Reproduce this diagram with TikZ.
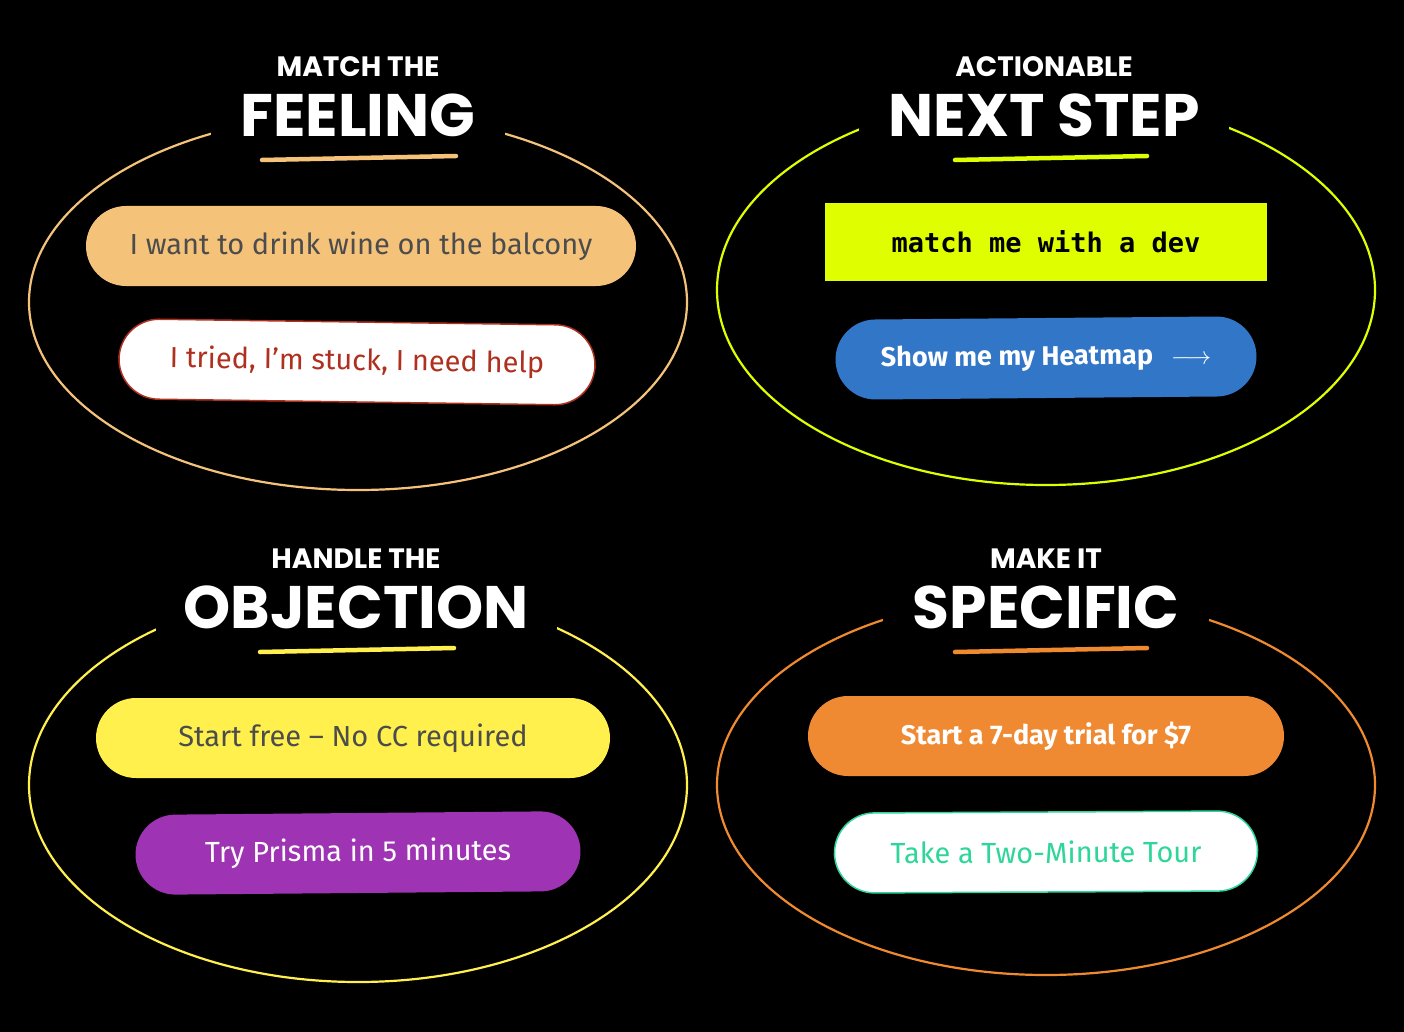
\documentclass[tikz,border=0pt]{standalone}
\usepackage{fontspec}
\setmainfont{Fira Sans}
\setmonofont{DejaVu Sans Mono}
\newfontfamily\titlefont{Poppins}
\begin{document}
\begin{tikzpicture}[x=1pt,y=-1pt,
  ell/.style={line width=2.2pt},
  btn/.style={rounded corners=40pt,minimum height=80pt,inner sep=0pt,font=\fontsize{29}{30}\selectfont},
  small/.style={fill=black,inner sep=0pt,font=\titlefont\bfseries\fontsize{28}{30}\selectfont,text=white},
  big/.style={fill=black,inner xsep=30pt,inner ysep=4pt,font=\titlefont\bfseries\fontsize{60}{62}\selectfont,text=white},
  uline/.style={line width=4.5pt,line cap=round}]
\definecolor{cA}{HTML}{F5C27A}\definecolor{cB}{HTML}{DFFF00}
\definecolor{cC}{HTML}{FFF04D}\definecolor{cD}{HTML}{F08A2E}
\fill[black] (0,0) rectangle (1404,1032);
\useasboundingbox (0,0) rectangle (1404,1032);
% ellipses
\draw[ell,cA] (358,302) ellipse [x radius=329,y radius=188];
\draw[ell,cB] (1046,290) ellipse [x radius=329,y radius=195];
\draw[ell,cC] (358,785) ellipse [x radius=329,y radius=197];
\draw[ell,cD] (1046,785) ellipse [x radius=329,y radius=190];
% titles
\node[big] (t1) at (358,115) {FEELING};
\node[small] (s1) at (358,67) {MATCH THE};
\draw[uline,cA] (262,160) -- (456,156);
\node[big] (t2) at (1044,115) {NEXT STEP};
\node[small] (s2) at (1044,67) {ACTIONABLE};
\draw[uline,cB] (955,160) -- (1147,156);
\node[big,inner xsep=28pt] (t3) at (356,607) {OBJECTION};
\node[small] (s3) at (356,559) {HANDLE THE};
\draw[uline,cC] (260,652) -- (454,648);
\node[big] (t4) at (1046,607) {SPECIFIC};
\node[small] (s4) at (1046,559) {MAKE IT};
\draw[uline,cD] (955,652) -- (1147,648);
% buttons
\node[btn,fill=cA,minimum width=550pt,text=black!70] (b1) at (361,246) {I want to drink wine on the balcony};
\node[btn,fill=white,draw={rgb,255:red,176;green,48;blue,31},line width=1.5pt,minimum width=476pt,rotate=-0.8,text={rgb,255:red,176;green,48;blue,31}] (b2) at (357,362) {I tried, I’m stuck, I need help};
\node[fill=cB,minimum width=442pt,minimum height=78pt,inner sep=0pt,font=\ttfamily\bfseries\fontsize{27}{28}\selectfont] (b3) at (1046,242) {match me with a dev};
\node[btn,fill={rgb,255:red,50;green,118;blue,200},minimum width=421pt,text=white,font=\bfseries\fontsize{27}{28}\selectfont,rotate=0.5] (b4) at (1046,358) {Show me my Heatmap\hspace{18pt}$\longrightarrow$};
\node[btn,fill=cC,minimum width=514pt,text=black!70] (b5) at (353,738) {Start free – No CC required};
\node[btn,fill={rgb,255:red,158;green,51;blue,179},minimum width=445pt,text=white,rotate=0.5] (b6) at (358,853) {Try Prisma in 5 minutes};
\node[btn,fill={rgb,255:red,239;green,138;blue,51},minimum width=476pt,text=white,font=\bfseries\fontsize{27}{28}\selectfont] (b7) at (1046,736) {Start a 7-day trial for \$7};
\node[btn,fill=white,draw={rgb,255:red,47;green,214;blue,154},line width=1.5pt,minimum width=423pt,text={rgb,255:red,47;green,214;blue,154},rotate=0.3] (b8) at (1046,852) {Take a Two-Minute Tour};
\end{tikzpicture}
\end{document}
